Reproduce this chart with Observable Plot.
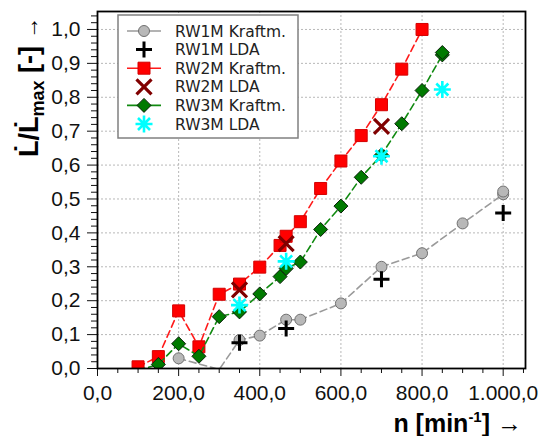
<!DOCTYPE html>
<html>
<head>
<meta charset="utf-8">
<script src="https://cdn.jsdelivr.net/npm/d3@7"></script>
<script src="https://cdn.jsdelivr.net/npm/@observablehq/plot@0.6"></script>
<style>
  html, body { margin: 0; padding: 0; background: #fff; }
  #chart { width: 545px; height: 436px; }
</style>
</head>
<body>
<div id="chart"></div>
<script>
// ---- data ----
const rw1mKraftX = [200, 300, 350, 400, 465, 500, 600, 700, 800, 900, 1000, 1000];
const rw1mKraftY = [0.030, -0.003, 0.084, 0.097, 0.144, 0.144, 0.192, 0.300, 0.340, 0.428, 0.514, 0.522];

const rw1mLdaX = [350, 465, 700, 1000];
const rw1mLdaY = [0.076, 0.118, 0.263, 0.459];

const rw2mKraftX = [100, 150, 200, 250, 300, 350, 400, 450, 465, 500, 550, 600, 650, 700, 750, 800];
const rw2mKraftY = [0.005, 0.035, 0.170, 0.064, 0.219, 0.249, 0.299, 0.363, 0.390, 0.433, 0.531, 0.612, 0.687, 0.778, 0.883, 1.000];

const rw2mLdaX = [350, 465, 700];
const rw2mLdaY = [0.232, 0.368, 0.714];

const rw3mKraftX = [100, 150, 200, 250, 300, 350, 400, 450, 465, 500, 550, 600, 650, 700, 750, 800, 850, 850];
const rw3mKraftY = [-0.005, 0.012, 0.073, 0.036, 0.153, 0.167, 0.220, 0.271, 0.295, 0.314, 0.410, 0.479, 0.564, 0.630, 0.722, 0.820, 0.925, 0.932];

const rw3mLdaX = [350, 465, 700, 850];
const rw3mLdaY = [0.187, 0.316, 0.626, 0.823];

const xMajorTicks = [0, 200, 400, 600, 800, 1000];
const xMinorTicks = [50, 100, 150, 250, 300, 350, 450, 500, 550, 650, 700, 750, 850, 900, 950, 1050];
const yMajorTicks = [0, 0.1, 0.2, 0.3, 0.4, 0.5, 0.6, 0.7, 0.8, 0.9, 1.0];
const yMinorTicks = d3.range(0, 53).map(i => +(i * 0.02).toFixed(2)).filter(v => Math.round(v * 100) % 10 !== 0);

const legendLabels = ["RW1M Kraftm.", "RW1M LDA", "RW2M Kraftm.", "RW2M LDA", "RW3M Kraftm.", "RW3M LDA"];

// ---- helpers ----
const zip = (xs, ys) => xs.map((x, i) => ({x, y: ys[i]}));
const de = d3.formatLocale({decimal: ",", thousands: ".", grouping: [3], currency: ["", "€"]}).format(",.1f");

const sym = f => ({draw(ctx, size) { f(ctx, Math.sqrt(size / Math.PI)); }});
const circleS = sym((c, r) => { c.moveTo(r, 0); c.arc(0, 0, r, 0, 2 * Math.PI); });
const squareS = sym((c, r) => { c.rect(-r, -r, 2 * r, 2 * r); });
const diamondS = sym((c, r) => { c.moveTo(0, -r); c.lineTo(r, 0); c.lineTo(0, r); c.lineTo(-r, 0); c.closePath(); });
const plusS = sym((c, r) => { c.moveTo(-r, 0); c.lineTo(r, 0); c.moveTo(0, -r); c.lineTo(0, r); });
const timesS = sym((c, r) => { c.moveTo(-r, -r); c.lineTo(r, r); c.moveTo(-r, r); c.lineTo(r, -r); });
const starS = sym((c, r) => {
  for (let k = 0; k < 4; k++) {
    const a = k * Math.PI / 4, dx = r * Math.cos(a), dy = r * Math.sin(a);
    c.moveTo(-dx, -dy); c.lineTo(dx, dy);
  }
});

const series = [
  {data: zip(rw1mKraftX, rw1mKraftY), line: "#9a9a9a", fill: "#b8b8b8", stroke: "#707070", symbol: circleS, r: 5.5, sw: 1},
  {data: zip(rw2mKraftX, rw2mKraftY), line: "#ff1a1a", fill: "#ff0000", stroke: "#d40000", symbol: squareS, r: 6, sw: 1},
  {data: zip(rw3mKraftX, rw3mKraftY), line: "#108a10", fill: "#007a00", stroke: "#0a200a", symbol: diamondS, r: 7, sw: 1}
];
const ldaSeries = [
  {data: zip(rw1mLdaX, rw1mLdaY), stroke: "#000000", symbol: plusS, r: 8, sw: 3},
  {data: zip(rw2mLdaX, rw2mLdaY), stroke: "#800000", symbol: timesS, r: 7.5, sw: 3.2},
  {data: zip(rw3mLdaX, rw3mLdaY), stroke: "#00ffff", symbol: starS, r: 8.5, sw: 2.6}
];

const marks = [
  Plot.gridX(xMajorTicks.filter(d => d > 0), {stroke: "#b8b8b8", strokeOpacity: 1, strokeDasharray: "2,2", strokeWidth: 1}),
  Plot.gridY(yMajorTicks.filter(d => d > 0), {stroke: "#b8b8b8", strokeOpacity: 1, strokeDasharray: "2,2", strokeWidth: 1}),
  Plot.axisX(xMinorTicks, {tickSize: 5, tickFormat: () => "", label: null}),
  Plot.axisX(xMajorTicks, {tickSize: 8, tickPadding: 9, tickFormat: de, fontSize: 21, label: null}),
  Plot.axisY(yMinorTicks, {tickSize: 6, tickFormat: () => "", label: null}),
  Plot.axisY(yMajorTicks, {tickSize: 10, tickPadding: 7, tickFormat: de, fontSize: 21, label: null})
];
// draw order: gray, red, green (green markers above red)
for (const s of series) {
  marks.push(Plot.line(s.data, {x: "x", y: "y", stroke: s.line, strokeWidth: 1.6, strokeDasharray: "7,4", clip: true}));
  marks.push(Plot.dot(s.data.filter(d => d.y >= 0), {x: "x", y: "y", symbol: s.symbol, r: s.r, fill: s.fill, stroke: s.stroke, strokeWidth: s.sw, clip: true}));
}
for (const s of ldaSeries) {
  marks.push(Plot.dot(s.data, {x: "x", y: "y", symbol: s.symbol, r: s.r, fill: "none", stroke: s.stroke, strokeWidth: s.sw}));
}
marks.push(Plot.frame({stroke: "#000", strokeWidth: 1.8}));

const svg = Plot.plot({
  width: 545,
  height: 436,
  marginLeft: 97,
  marginRight: 20,
  marginTop: 11,
  marginBottom: 68,
  style: {fontFamily: "'Liberation Sans', Arial, sans-serif", fontSize: "21px", color: "#111", background: "#fff"},
  x: {domain: [0, 1055], axis: null},
  y: {domain: [0, 1.053], axis: null},
  marks
});
document.getElementById("chart").appendChild(svg);

// ---- axis titles ----
const root = d3.select(svg);
const yt = root.append("text")
  .attr("transform", "translate(38,157) rotate(-90)")
  .attr("text-anchor", "start")
  .attr("font-family", "'Liberation Sans', Arial, sans-serif")
  .attr("font-weight", "bold")
  .attr("font-size", 27)
  .attr("fill", "#000");
yt.append("tspan").text("L\u0307/L\u0307");
yt.append("tspan").attr("font-size", 18).attr("dy", 6).text("max");
yt.append("tspan").attr("dy", -6).text(" [-] ");
yt.append("tspan").attr("font-weight", "normal").attr("font-size", 22).text("\u2192");

const xt = root.append("text")
  .attr("x", 522).attr("y", 432)
  .attr("text-anchor", "end")
  .attr("font-family", "'Liberation Sans', Arial, sans-serif")
  .attr("font-weight", "bold")
  .attr("font-size", 25)
  .attr("fill", "#000");
xt.append("tspan").text("n [min");
xt.append("tspan").attr("font-size", 15).attr("dy", -10).text("-1");
xt.append("tspan").attr("dy", 10).text("] ");
xt.append("tspan").text("\u2192");

// ---- legend ----
const lg = root.append("g").attr("text-anchor", "start");
lg.append("rect").attr("x", 118).attr("y", 15).attr("width", 180).attr("height", 123)
  .attr("fill", "#fff").attr("stroke", "#808080").attr("stroke-width", 1.5);
const legendStyles = [
  {line: series[0].line, s: series[0]},
  {line: null, s: ldaSeries[0]},
  {line: series[1].line, s: series[1]},
  {line: null, s: ldaSeries[1]},
  {line: series[2].line, s: series[2]},
  {line: null, s: ldaSeries[2]}
];
legendLabels.forEach((label, i) => {
  const cy = 31 + i * 18.6;
  const st = legendStyles[i];
  if (st.line) {
    lg.append("line").attr("x1", 127).attr("x2", 161).attr("y1", cy).attr("y2", cy)
      .attr("stroke", st.line).attr("stroke-width", 1.6);
  }
  const p = d3.path();
  st.s.symbol.draw(p, st.s.r * st.s.r * Math.PI);
  lg.append("path").attr("d", p.toString()).attr("transform", `translate(144,${cy})`)
    .attr("fill", st.s.fill || "none").attr("stroke", st.s.stroke).attr("stroke-width", st.s.sw);
  lg.append("text").attr("x", 175).attr("y", cy + 5.5)
    .attr("text-anchor", "start")
    .attr("font-family", "'DejaVu Sans', sans-serif").attr("font-size", 15.5)
    .attr("fill", "#222").text(label);
});
</script>
</body>
</html>
